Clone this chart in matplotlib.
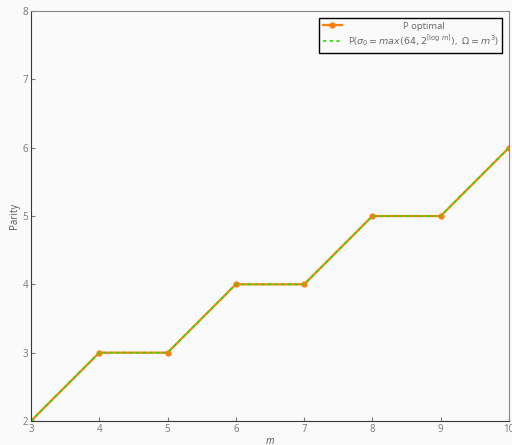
import matplotlib
matplotlib.use("Agg")
import matplotlib.pyplot as plt

m_values = [3, 4, 5, 6, 7, 8, 9, 10]
parity_optimal = [2, 3, 3, 4, 4, 5, 5, 6]
parity_formula = [2, 3, 3, 4, 4, 5, 5, 6]

plt.rcParams['font.family'] = ['Open Sans', 'DejaVu Sans']
plt.rcParams['mathtext.fontset'] = 'dejavusans'

fig = plt.figure(figsize=(5.12, 4.45), dpi=100)
fig.patch.set_facecolor('#fafafa')
ax = fig.add_axes([0.0605, 0.054, 0.9335, 0.921])
ax.set_facecolor('#fafafa')

ax.plot(m_values, parity_optimal, color='#ff7f0e', marker='o', markersize=3.5,
        linewidth=1.6, label='                      P optimal')
ax.plot(m_values, parity_formula, color='#22e000', linestyle=(0, (2, 2)), linewidth=1.2,
        label=r'P($\sigma_0 = max(64, 2^{\lceil \log\, m \rceil})$,  $\Omega = m^3$)')

ax.set_xlim(3, 10)
ax.set_ylim(2, 8)
ax.set_xlabel('m', fontsize=7, style='italic', color='#555555', labelpad=1)
ax.set_ylabel('Parity', fontsize=7, color='#555555', labelpad=2)
ax.tick_params(direction='in', labelsize=7, colors='#777777', length=3, pad=2)
for side in ['left', 'bottom']:
    ax.spines[side].set_color('#333a40')
for side in ['top', 'right']:
    ax.spines[side].set_color('#888888')

leg = ax.legend(loc='upper right', fontsize=6.8, fancybox=False, framealpha=1,
                edgecolor='black', handlelength=2, borderpad=0.4, labelspacing=0.3,
                handletextpad=0.6, borderaxespad=0.7)
leg.get_frame().set_linewidth(1)
leg.get_frame().set_facecolor('#fafafa')
for t in leg.texts:
    t.set_color('#666666')

fig.savefig('out.png', dpi=100, facecolor=fig.get_facecolor())
